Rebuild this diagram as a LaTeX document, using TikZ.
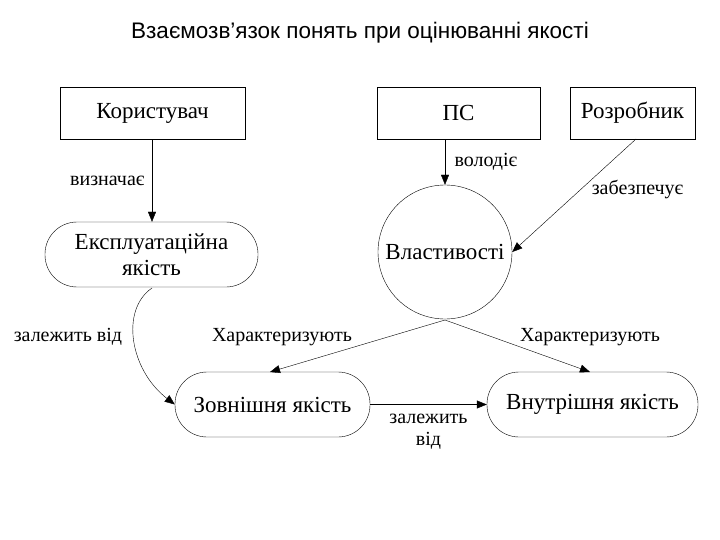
\documentclass[tikz,border=0pt]{standalone}
\usepackage{fontspec}
\setmainfont{Liberation Serif}
\newfontfamily\titlefont{Liberation Sans}
\usetikzlibrary{arrows.meta}
\begin{document}
\begin{tikzpicture}[x=1pt,y=-1pt,
  box/.style={draw,thin,minimum height=52pt,font=\fontsize{23}{26}\selectfont,inner sep=0pt},
  pill/.style={draw,thin,rounded corners=32pt,minimum height=65pt,font=\fontsize{23}{26}\selectfont,align=center,inner sep=0pt},
  lbl/.style={font=\fontsize{20}{22}\selectfont,align=center},
  arr/.style={-{Triangle[length=10pt,width=8pt]},thin}]
\useasboundingbox (0,0) rectangle (720,540);
\node[font=\titlefont\fontsize{22.5}{25}\selectfont] (t) at (360,33) {Взаємозв’язок понять при оцінюванні якості};
\node[box,minimum width=185pt] (k) at (152.5,113) {Користувач};
\node[box,minimum width=163pt] (ps) at (458.5,113) {ПС};
\node[box,minimum width=125pt] (r) at (632.5,113) {Розробник};
\node[pill,minimum width=213pt] (e) at (151.5,254.5) {Експлуатаційна\\якість};
\node[draw,thin,circle,minimum size=134pt,inner sep=0pt,font=\fontsize{23}{26}\selectfont] (v) at (445,252) {Властивості};
\node[pill,minimum width=195pt] (z) at (272.5,404.5) {Зовнішня якість};
\node[pill,minimum width=211pt] (w) at (592.5,404.5) {\strut Внутрішня якість};
\coordinate (vb) at (445,320);
\draw[arr] (k.south -| 152,0) -- (e.north -| 152,0) node[lbl,midway,left=4pt] {визначає};
\draw[arr] (ps.south -| v.north) -- (v.north) node[lbl,midway,right=6pt] {володіє};
\draw[arr] (636,139) -- (v.east) node[lbl,pos=0.45,right=8pt] {забезпечує};
\draw[arr] (vb) -- (270,372);
\draw[arr] (vb) -- (590,372);
\node[lbl] at (282,337) {Характеризують};
\node[lbl] at (590,337) {Характеризують};
\draw[arr] (152,288) .. controls (120,310) and (130,370) .. (z.west);
\node[lbl] at (68,337) {залежить від};
\draw[arr] (z.east) -- (w.west) node[lbl,midway,below=6pt] {залежить\\від};
\end{tikzpicture}
\end{document}
